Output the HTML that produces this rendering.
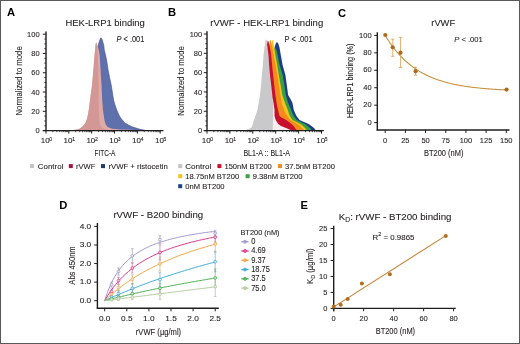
<!DOCTYPE html>
<html><head><meta charset="utf-8"><style>
html,body{margin:0;padding:0;background:#fff;}
body{width:520px;height:344px;overflow:hidden;}
svg{display:block;font-family:"Liberation Sans", sans-serif;will-change:transform;}
</style></head><body>
<svg width="520" height="344" viewBox="0 0 520 344">
<rect x="0" y="0" width="520" height="344" fill="#fff"/>
<text x="7.0" y="16.3" font-size="11.2" font-weight="bold" fill="#000">A</text>
<text x="168.0" y="16.3" font-size="11.2" font-weight="bold" fill="#000">B</text>
<text x="338.0" y="16.5" font-size="11.2" font-weight="bold" fill="#000">C</text>
<text x="59.3" y="209.1" font-size="11.2" font-weight="bold" fill="#000">D</text>
<text x="300.6" y="209.2" font-size="11.2" font-weight="bold" fill="#000">E</text>
<polygon points="95.00,130.60 95.00,62.00 96.80,52.00 98.00,46.00 99.00,42.50 99.80,40.00 100.30,39.00 100.80,37.80 101.40,38.20 102.30,40.00 103.00,42.50 103.70,45.00 104.30,50.00 105.50,55.00 106.60,60.00 107.40,65.00 108.10,70.00 109.10,75.00 110.10,80.00 111.20,85.00 112.00,90.00 112.80,95.00 113.60,100.00 115.00,105.00 116.80,110.00 118.50,114.00 120.00,117.00 122.30,120.00 125.00,123.00 128.40,125.00 132.00,126.80 135.90,128.00 140.00,129.30 144.00,130.10 146.00,130.60" fill="#5e71ad" stroke="#45538a" stroke-width="0.6"/>
<polygon points="66.00,130.60 72.00,130.10 76.00,129.70 79.00,128.90 81.00,127.80 82.50,126.60 84.00,125.00 86.00,122.00 87.50,117.00 88.60,111.00 89.70,103.00 90.80,94.00 92.10,85.00 92.80,77.00 93.40,70.00 94.00,62.00 94.60,55.00 95.20,49.00 95.70,44.00 96.10,42.30 96.60,43.20 97.50,46.00 98.50,49.00 99.70,55.00 100.20,64.00 100.70,72.00 101.20,80.00 101.70,88.00 102.20,100.00 103.00,110.00 104.40,120.00 105.50,124.00 107.50,127.00 112.00,128.80 120.00,129.40 130.00,129.70 136.00,130.00 140.00,130.60" fill="#dfa9a7"/>
<polygon points="66.00,130.60 72.00,130.10 76.00,129.70 79.00,128.90 81.00,127.80 82.50,126.60 84.00,125.00 86.00,122.00 87.50,117.00 88.60,111.00 89.70,103.00 90.80,94.00 92.10,85.00 92.80,77.00 93.40,70.00 94.00,62.00 94.60,55.00 95.20,49.00 95.70,44.00 96.10,42.30 96.60,43.20 96.90,46.00 97.40,50.00 97.70,55.00 98.00,64.00 98.20,72.00 98.50,80.00 98.70,88.00 98.60,100.00 98.80,110.00 99.10,120.00 100.00,125.00 102.00,128.00 106.00,129.50 110.00,130.60" fill="#d39795"/>
<line x1="46.00" y1="31.50" x2="46.00" y2="131.20" stroke="#1e1e1e" stroke-width="1.4"/>
<line x1="42.80" y1="130.60" x2="46.00" y2="130.60" stroke="#1e1e1e" stroke-width="1"/>
<line x1="44.40" y1="125.78" x2="46.00" y2="125.78" stroke="#1e1e1e" stroke-width="0.9"/>
<line x1="44.40" y1="120.96" x2="46.00" y2="120.96" stroke="#1e1e1e" stroke-width="0.9"/>
<line x1="44.40" y1="116.14" x2="46.00" y2="116.14" stroke="#1e1e1e" stroke-width="0.9"/>
<line x1="42.80" y1="111.32" x2="46.00" y2="111.32" stroke="#1e1e1e" stroke-width="1"/>
<line x1="44.40" y1="106.50" x2="46.00" y2="106.50" stroke="#1e1e1e" stroke-width="0.9"/>
<line x1="44.40" y1="101.68" x2="46.00" y2="101.68" stroke="#1e1e1e" stroke-width="0.9"/>
<line x1="44.40" y1="96.86" x2="46.00" y2="96.86" stroke="#1e1e1e" stroke-width="0.9"/>
<line x1="42.80" y1="92.04" x2="46.00" y2="92.04" stroke="#1e1e1e" stroke-width="1"/>
<line x1="44.40" y1="87.22" x2="46.00" y2="87.22" stroke="#1e1e1e" stroke-width="0.9"/>
<line x1="44.40" y1="82.40" x2="46.00" y2="82.40" stroke="#1e1e1e" stroke-width="0.9"/>
<line x1="44.40" y1="77.58" x2="46.00" y2="77.58" stroke="#1e1e1e" stroke-width="0.9"/>
<line x1="42.80" y1="72.76" x2="46.00" y2="72.76" stroke="#1e1e1e" stroke-width="1"/>
<line x1="44.40" y1="67.94" x2="46.00" y2="67.94" stroke="#1e1e1e" stroke-width="0.9"/>
<line x1="44.40" y1="63.12" x2="46.00" y2="63.12" stroke="#1e1e1e" stroke-width="0.9"/>
<line x1="44.40" y1="58.30" x2="46.00" y2="58.30" stroke="#1e1e1e" stroke-width="0.9"/>
<line x1="42.80" y1="53.48" x2="46.00" y2="53.48" stroke="#1e1e1e" stroke-width="1"/>
<line x1="44.40" y1="48.66" x2="46.00" y2="48.66" stroke="#1e1e1e" stroke-width="0.9"/>
<line x1="44.40" y1="43.84" x2="46.00" y2="43.84" stroke="#1e1e1e" stroke-width="0.9"/>
<line x1="44.40" y1="39.02" x2="46.00" y2="39.02" stroke="#1e1e1e" stroke-width="0.9"/>
<line x1="42.80" y1="34.20" x2="46.00" y2="34.20" stroke="#1e1e1e" stroke-width="1"/>
<line x1="42.80" y1="130.60" x2="163.50" y2="130.60" stroke="#1e1e1e" stroke-width="1.4"/>
<line x1="46.00" y1="130.60" x2="46.00" y2="133.60" stroke="#1e1e1e" stroke-width="1"/>
<line x1="52.88" y1="130.60" x2="52.88" y2="132.20" stroke="#1e1e1e" stroke-width="0.8"/>
<line x1="56.90" y1="130.60" x2="56.90" y2="132.20" stroke="#1e1e1e" stroke-width="0.8"/>
<line x1="59.75" y1="130.60" x2="59.75" y2="132.20" stroke="#1e1e1e" stroke-width="0.8"/>
<line x1="61.96" y1="130.60" x2="61.96" y2="132.20" stroke="#1e1e1e" stroke-width="0.8"/>
<line x1="63.77" y1="130.60" x2="63.77" y2="132.20" stroke="#1e1e1e" stroke-width="0.8"/>
<line x1="65.30" y1="130.60" x2="65.30" y2="132.20" stroke="#1e1e1e" stroke-width="0.8"/>
<line x1="66.63" y1="130.60" x2="66.63" y2="132.20" stroke="#1e1e1e" stroke-width="0.8"/>
<line x1="67.79" y1="130.60" x2="67.79" y2="132.20" stroke="#1e1e1e" stroke-width="0.8"/>
<line x1="68.84" y1="130.60" x2="68.84" y2="133.60" stroke="#1e1e1e" stroke-width="1"/>
<line x1="75.72" y1="130.60" x2="75.72" y2="132.20" stroke="#1e1e1e" stroke-width="0.8"/>
<line x1="79.74" y1="130.60" x2="79.74" y2="132.20" stroke="#1e1e1e" stroke-width="0.8"/>
<line x1="82.59" y1="130.60" x2="82.59" y2="132.20" stroke="#1e1e1e" stroke-width="0.8"/>
<line x1="84.80" y1="130.60" x2="84.80" y2="132.20" stroke="#1e1e1e" stroke-width="0.8"/>
<line x1="86.61" y1="130.60" x2="86.61" y2="132.20" stroke="#1e1e1e" stroke-width="0.8"/>
<line x1="88.14" y1="130.60" x2="88.14" y2="132.20" stroke="#1e1e1e" stroke-width="0.8"/>
<line x1="89.47" y1="130.60" x2="89.47" y2="132.20" stroke="#1e1e1e" stroke-width="0.8"/>
<line x1="90.63" y1="130.60" x2="90.63" y2="132.20" stroke="#1e1e1e" stroke-width="0.8"/>
<line x1="91.68" y1="130.60" x2="91.68" y2="133.60" stroke="#1e1e1e" stroke-width="1"/>
<line x1="98.56" y1="130.60" x2="98.56" y2="132.20" stroke="#1e1e1e" stroke-width="0.8"/>
<line x1="102.58" y1="130.60" x2="102.58" y2="132.20" stroke="#1e1e1e" stroke-width="0.8"/>
<line x1="105.43" y1="130.60" x2="105.43" y2="132.20" stroke="#1e1e1e" stroke-width="0.8"/>
<line x1="107.64" y1="130.60" x2="107.64" y2="132.20" stroke="#1e1e1e" stroke-width="0.8"/>
<line x1="109.45" y1="130.60" x2="109.45" y2="132.20" stroke="#1e1e1e" stroke-width="0.8"/>
<line x1="110.98" y1="130.60" x2="110.98" y2="132.20" stroke="#1e1e1e" stroke-width="0.8"/>
<line x1="112.31" y1="130.60" x2="112.31" y2="132.20" stroke="#1e1e1e" stroke-width="0.8"/>
<line x1="113.47" y1="130.60" x2="113.47" y2="132.20" stroke="#1e1e1e" stroke-width="0.8"/>
<line x1="114.52" y1="130.60" x2="114.52" y2="133.60" stroke="#1e1e1e" stroke-width="1"/>
<line x1="121.40" y1="130.60" x2="121.40" y2="132.20" stroke="#1e1e1e" stroke-width="0.8"/>
<line x1="125.42" y1="130.60" x2="125.42" y2="132.20" stroke="#1e1e1e" stroke-width="0.8"/>
<line x1="128.27" y1="130.60" x2="128.27" y2="132.20" stroke="#1e1e1e" stroke-width="0.8"/>
<line x1="130.48" y1="130.60" x2="130.48" y2="132.20" stroke="#1e1e1e" stroke-width="0.8"/>
<line x1="132.29" y1="130.60" x2="132.29" y2="132.20" stroke="#1e1e1e" stroke-width="0.8"/>
<line x1="133.82" y1="130.60" x2="133.82" y2="132.20" stroke="#1e1e1e" stroke-width="0.8"/>
<line x1="135.15" y1="130.60" x2="135.15" y2="132.20" stroke="#1e1e1e" stroke-width="0.8"/>
<line x1="136.31" y1="130.60" x2="136.31" y2="132.20" stroke="#1e1e1e" stroke-width="0.8"/>
<line x1="137.36" y1="130.60" x2="137.36" y2="133.60" stroke="#1e1e1e" stroke-width="1"/>
<line x1="144.24" y1="130.60" x2="144.24" y2="132.20" stroke="#1e1e1e" stroke-width="0.8"/>
<line x1="148.26" y1="130.60" x2="148.26" y2="132.20" stroke="#1e1e1e" stroke-width="0.8"/>
<line x1="151.11" y1="130.60" x2="151.11" y2="132.20" stroke="#1e1e1e" stroke-width="0.8"/>
<line x1="153.32" y1="130.60" x2="153.32" y2="132.20" stroke="#1e1e1e" stroke-width="0.8"/>
<line x1="155.13" y1="130.60" x2="155.13" y2="132.20" stroke="#1e1e1e" stroke-width="0.8"/>
<line x1="156.66" y1="130.60" x2="156.66" y2="132.20" stroke="#1e1e1e" stroke-width="0.8"/>
<line x1="157.99" y1="130.60" x2="157.99" y2="132.20" stroke="#1e1e1e" stroke-width="0.8"/>
<line x1="159.15" y1="130.60" x2="159.15" y2="132.20" stroke="#1e1e1e" stroke-width="0.8"/>
<line x1="160.20" y1="130.60" x2="160.20" y2="133.60" stroke="#1e1e1e" stroke-width="1"/>
<text x="39.6" y="133.2" font-size="8.1" text-anchor="end" textLength="4.17" lengthAdjust="spacingAndGlyphs" fill="#231f20" stroke="#231f20" stroke-width="0.1">0</text>
<text x="39.6" y="113.91999999999999" font-size="8.1" text-anchor="end" textLength="8.34" lengthAdjust="spacingAndGlyphs" fill="#231f20" stroke="#231f20" stroke-width="0.1">20</text>
<text x="39.6" y="94.63999999999999" font-size="8.1" text-anchor="end" textLength="8.34" lengthAdjust="spacingAndGlyphs" fill="#231f20" stroke="#231f20" stroke-width="0.1">40</text>
<text x="39.6" y="75.35999999999999" font-size="8.1" text-anchor="end" textLength="8.34" lengthAdjust="spacingAndGlyphs" fill="#231f20" stroke="#231f20" stroke-width="0.1">60</text>
<text x="39.6" y="56.080000000000005" font-size="8.1" text-anchor="end" textLength="8.34" lengthAdjust="spacingAndGlyphs" fill="#231f20" stroke="#231f20" stroke-width="0.1">80</text>
<text x="39.6" y="36.800000000000004" font-size="8.1" text-anchor="end" textLength="12.51" lengthAdjust="spacingAndGlyphs" fill="#231f20" stroke="#231f20" stroke-width="0.1">100</text>
<text x="45.2" y="143.4" font-size="8.0" text-anchor="middle" fill="#231f20" stroke="#231f20" stroke-width="0.1">10</text>
<text x="49.3" y="140.9" font-size="5.0" fill="#231f20" stroke="#231f20" stroke-width="0.1">0</text>
<text x="68.04" y="143.4" font-size="8.0" text-anchor="middle" fill="#231f20" stroke="#231f20" stroke-width="0.1">10</text>
<text x="72.14" y="140.9" font-size="5.0" fill="#231f20" stroke="#231f20" stroke-width="0.1">1</text>
<text x="90.88000000000001" y="143.4" font-size="8.0" text-anchor="middle" fill="#231f20" stroke="#231f20" stroke-width="0.1">10</text>
<text x="94.98" y="140.9" font-size="5.0" fill="#231f20" stroke="#231f20" stroke-width="0.1">2</text>
<text x="113.72" y="143.4" font-size="8.0" text-anchor="middle" fill="#231f20" stroke="#231f20" stroke-width="0.1">10</text>
<text x="117.82" y="140.9" font-size="5.0" fill="#231f20" stroke="#231f20" stroke-width="0.1">3</text>
<text x="136.56" y="143.4" font-size="8.0" text-anchor="middle" fill="#231f20" stroke="#231f20" stroke-width="0.1">10</text>
<text x="140.66000000000003" y="140.9" font-size="5.0" fill="#231f20" stroke="#231f20" stroke-width="0.1">4</text>
<text x="159.39999999999998" y="143.4" font-size="8.0" text-anchor="middle" fill="#231f20" stroke="#231f20" stroke-width="0.1">10</text>
<text x="163.5" y="140.9" font-size="5.0" fill="#231f20" stroke="#231f20" stroke-width="0.1">5</text>
<text x="105.0" y="155.9" font-size="9.0" text-anchor="middle" textLength="20.9" lengthAdjust="spacingAndGlyphs" fill="#231f20" stroke="#231f20" stroke-width="0.1">FITC-A</text>
<text transform="translate(21.5,80.9) rotate(-90)" font-size="9.4" text-anchor="middle" fill="#231f20" textLength="69.2" lengthAdjust="spacingAndGlyphs" stroke="#231f20" stroke-width="0.1">Normalized to mode</text>
<text x="65.5" y="26.1" font-size="9.9" textLength="79.3" lengthAdjust="spacingAndGlyphs" fill="#231f20" stroke="#231f20" stroke-width="0.1">HEK-LRP1 binding</text>
<text x="116.5" y="41.9" font-size="8.3" textLength="27.8" lengthAdjust="spacingAndGlyphs" fill="#231f20" stroke="#231f20" stroke-width="0.1"><tspan font-style="italic">P</tspan> &lt; .001</text>
<rect x="30" y="164.1" width="4" height="4" fill="#c4c4c6"/>
<text x="37.8" y="168.8" font-size="8.0" textLength="25.6" lengthAdjust="spacingAndGlyphs" fill="#231f20" stroke="#231f20" stroke-width="0.1">Control</text>
<rect x="68.8" y="164.1" width="4" height="4" fill="#a8123a"/>
<text x="76.0" y="168.8" font-size="8.0" textLength="19.3" lengthAdjust="spacingAndGlyphs" fill="#231f20" stroke="#231f20" stroke-width="0.1">rVWF</text>
<rect x="101.0" y="164.1" width="4" height="4" fill="#1e3a70"/>
<text x="108.5" y="168.8" font-size="8.0" textLength="59.3" lengthAdjust="spacingAndGlyphs" fill="#231f20" stroke="#231f20" stroke-width="0.1">rVWF + ristocetin</text>
<polygon points="258.00,130.60 273.50,60.00 274.30,50.00 275.00,46.00 275.80,43.50 276.60,42.30 277.00,42.20 277.60,42.60 278.60,44.50 279.50,47.50 280.10,51.00 280.80,55.00 282.60,65.00 285.40,75.00 286.80,85.00 288.10,95.00 290.50,99.00 292.50,103.00 293.80,110.00 295.50,114.00 296.50,116.00 298.00,118.00 299.50,120.00 304.00,122.00 308.60,124.00 311.50,126.00 314.00,128.00 316.00,130.60" fill="#1c3d88"/>
<polygon points="258.00,130.60 272.60,60.00 273.30,52.00 274.00,46.00 274.60,48.40 275.00,47.60 275.60,48.20 276.30,50.00 277.00,52.00 277.60,55.00 279.60,65.00 282.70,75.00 284.30,85.00 285.80,95.00 288.20,103.00 291.20,110.00 292.80,114.00 293.80,116.00 295.30,118.00 296.80,120.00 301.00,122.00 304.90,124.00 307.50,126.00 310.00,128.00 312.00,130.60" fill="#3aa046"/>
<polygon points="258.00,130.60 270.00,60.00 270.70,52.00 271.40,46.00 272.00,40.90 272.40,40.10 273.00,40.80 273.80,45.00 274.60,50.00 275.40,55.00 277.20,65.00 278.80,75.00 280.60,85.00 282.30,95.00 285.00,103.00 287.80,110.00 289.00,114.00 289.90,116.00 291.20,118.00 292.60,120.00 296.50,122.00 300.30,124.00 303.00,126.00 305.00,128.00 307.00,130.60" fill="#f6c21b"/>
<polygon points="258.00,130.60 267.90,60.00 268.60,52.00 269.30,46.00 269.90,40.80 270.30,40.00 270.90,40.80 271.80,45.00 272.70,50.00 273.50,55.00 275.50,65.00 277.30,75.00 278.80,85.00 280.40,95.00 281.60,103.00 284.00,110.00 286.00,114.00 287.20,116.00 288.80,118.00 290.30,120.00 294.00,122.00 297.50,124.00 300.00,126.00 302.00,128.00 304.00,130.60" fill="#f28c1c"/>
<polygon points="258.00,130.60 265.50,60.00 266.20,52.00 266.90,46.00 267.50,41.30 267.90,40.50 268.40,41.30 269.40,45.00 270.40,50.00 271.20,55.00 272.10,65.00 273.10,75.00 274.20,85.00 275.40,95.00 276.60,103.00 278.00,110.00 279.00,114.00 279.50,116.00 281.50,117.50 284.50,119.00 286.10,120.00 289.00,122.00 291.50,124.00 293.50,126.00 295.00,128.00 297.00,130.60" fill="#c8102e"/>
<polygon points="272.00,98.00 273.00,100.00 273.80,105.00 274.50,110.00 274.50,116.00 275.70,120.00 278.20,124.00 281.00,126.00 286.00,128.00 289.50,129.50 292.00,130.60 270.00,130.60 270.00,98.00" fill="#f6eef0"/>
<polygon points="243.00,130.60 246.00,129.90 249.00,129.00 251.90,127.00 253.70,120.50 255.50,116.00 257.40,110.00 258.80,102.00 260.00,95.00 261.00,85.00 261.90,75.00 262.80,65.00 263.50,55.00 264.20,50.00 264.90,45.00 265.40,41.50 265.80,39.50 266.40,40.20 267.00,45.00 267.80,50.00 268.50,55.00 269.10,65.00 270.00,75.00 271.20,85.00 272.30,95.00 273.00,103.00 273.20,110.00 273.10,120.00 272.80,127.00 272.60,130.60" fill="#c9c9cc"/>
<polygon points="265.80,39.50 266.40,40.20 267.00,45.00 267.50,48.50 264.40,48.50 264.90,45.00 265.40,41.50" fill="#e0c6cb"/>
<line x1="207.00" y1="31.30" x2="207.00" y2="131.20" stroke="#1e1e1e" stroke-width="1.4"/>
<line x1="203.80" y1="130.60" x2="207.00" y2="130.60" stroke="#1e1e1e" stroke-width="1"/>
<line x1="205.40" y1="125.77" x2="207.00" y2="125.77" stroke="#1e1e1e" stroke-width="0.9"/>
<line x1="205.40" y1="120.94" x2="207.00" y2="120.94" stroke="#1e1e1e" stroke-width="0.9"/>
<line x1="205.40" y1="116.11" x2="207.00" y2="116.11" stroke="#1e1e1e" stroke-width="0.9"/>
<line x1="203.80" y1="111.28" x2="207.00" y2="111.28" stroke="#1e1e1e" stroke-width="1"/>
<line x1="205.40" y1="106.45" x2="207.00" y2="106.45" stroke="#1e1e1e" stroke-width="0.9"/>
<line x1="205.40" y1="101.62" x2="207.00" y2="101.62" stroke="#1e1e1e" stroke-width="0.9"/>
<line x1="205.40" y1="96.79" x2="207.00" y2="96.79" stroke="#1e1e1e" stroke-width="0.9"/>
<line x1="203.80" y1="91.96" x2="207.00" y2="91.96" stroke="#1e1e1e" stroke-width="1"/>
<line x1="205.40" y1="87.13" x2="207.00" y2="87.13" stroke="#1e1e1e" stroke-width="0.9"/>
<line x1="205.40" y1="82.30" x2="207.00" y2="82.30" stroke="#1e1e1e" stroke-width="0.9"/>
<line x1="205.40" y1="77.47" x2="207.00" y2="77.47" stroke="#1e1e1e" stroke-width="0.9"/>
<line x1="203.80" y1="72.64" x2="207.00" y2="72.64" stroke="#1e1e1e" stroke-width="1"/>
<line x1="205.40" y1="67.81" x2="207.00" y2="67.81" stroke="#1e1e1e" stroke-width="0.9"/>
<line x1="205.40" y1="62.98" x2="207.00" y2="62.98" stroke="#1e1e1e" stroke-width="0.9"/>
<line x1="205.40" y1="58.15" x2="207.00" y2="58.15" stroke="#1e1e1e" stroke-width="0.9"/>
<line x1="203.80" y1="53.32" x2="207.00" y2="53.32" stroke="#1e1e1e" stroke-width="1"/>
<line x1="205.40" y1="48.49" x2="207.00" y2="48.49" stroke="#1e1e1e" stroke-width="0.9"/>
<line x1="205.40" y1="43.66" x2="207.00" y2="43.66" stroke="#1e1e1e" stroke-width="0.9"/>
<line x1="205.40" y1="38.83" x2="207.00" y2="38.83" stroke="#1e1e1e" stroke-width="0.9"/>
<line x1="203.80" y1="34.00" x2="207.00" y2="34.00" stroke="#1e1e1e" stroke-width="1"/>
<line x1="203.80" y1="130.60" x2="323.80" y2="130.60" stroke="#1e1e1e" stroke-width="1.4"/>
<line x1="207.00" y1="130.60" x2="207.00" y2="133.60" stroke="#1e1e1e" stroke-width="1"/>
<line x1="213.89" y1="130.60" x2="213.89" y2="132.20" stroke="#1e1e1e" stroke-width="0.8"/>
<line x1="217.93" y1="130.60" x2="217.93" y2="132.20" stroke="#1e1e1e" stroke-width="0.8"/>
<line x1="220.79" y1="130.60" x2="220.79" y2="132.20" stroke="#1e1e1e" stroke-width="0.8"/>
<line x1="223.01" y1="130.60" x2="223.01" y2="132.20" stroke="#1e1e1e" stroke-width="0.8"/>
<line x1="224.82" y1="130.60" x2="224.82" y2="132.20" stroke="#1e1e1e" stroke-width="0.8"/>
<line x1="226.35" y1="130.60" x2="226.35" y2="132.20" stroke="#1e1e1e" stroke-width="0.8"/>
<line x1="227.68" y1="130.60" x2="227.68" y2="132.20" stroke="#1e1e1e" stroke-width="0.8"/>
<line x1="228.85" y1="130.60" x2="228.85" y2="132.20" stroke="#1e1e1e" stroke-width="0.8"/>
<line x1="229.90" y1="130.60" x2="229.90" y2="133.60" stroke="#1e1e1e" stroke-width="1"/>
<line x1="236.79" y1="130.60" x2="236.79" y2="132.20" stroke="#1e1e1e" stroke-width="0.8"/>
<line x1="240.83" y1="130.60" x2="240.83" y2="132.20" stroke="#1e1e1e" stroke-width="0.8"/>
<line x1="243.69" y1="130.60" x2="243.69" y2="132.20" stroke="#1e1e1e" stroke-width="0.8"/>
<line x1="245.91" y1="130.60" x2="245.91" y2="132.20" stroke="#1e1e1e" stroke-width="0.8"/>
<line x1="247.72" y1="130.60" x2="247.72" y2="132.20" stroke="#1e1e1e" stroke-width="0.8"/>
<line x1="249.25" y1="130.60" x2="249.25" y2="132.20" stroke="#1e1e1e" stroke-width="0.8"/>
<line x1="250.58" y1="130.60" x2="250.58" y2="132.20" stroke="#1e1e1e" stroke-width="0.8"/>
<line x1="251.75" y1="130.60" x2="251.75" y2="132.20" stroke="#1e1e1e" stroke-width="0.8"/>
<line x1="252.80" y1="130.60" x2="252.80" y2="133.60" stroke="#1e1e1e" stroke-width="1"/>
<line x1="259.69" y1="130.60" x2="259.69" y2="132.20" stroke="#1e1e1e" stroke-width="0.8"/>
<line x1="263.73" y1="130.60" x2="263.73" y2="132.20" stroke="#1e1e1e" stroke-width="0.8"/>
<line x1="266.59" y1="130.60" x2="266.59" y2="132.20" stroke="#1e1e1e" stroke-width="0.8"/>
<line x1="268.81" y1="130.60" x2="268.81" y2="132.20" stroke="#1e1e1e" stroke-width="0.8"/>
<line x1="270.62" y1="130.60" x2="270.62" y2="132.20" stroke="#1e1e1e" stroke-width="0.8"/>
<line x1="272.15" y1="130.60" x2="272.15" y2="132.20" stroke="#1e1e1e" stroke-width="0.8"/>
<line x1="273.48" y1="130.60" x2="273.48" y2="132.20" stroke="#1e1e1e" stroke-width="0.8"/>
<line x1="274.65" y1="130.60" x2="274.65" y2="132.20" stroke="#1e1e1e" stroke-width="0.8"/>
<line x1="275.70" y1="130.60" x2="275.70" y2="133.60" stroke="#1e1e1e" stroke-width="1"/>
<line x1="282.59" y1="130.60" x2="282.59" y2="132.20" stroke="#1e1e1e" stroke-width="0.8"/>
<line x1="286.63" y1="130.60" x2="286.63" y2="132.20" stroke="#1e1e1e" stroke-width="0.8"/>
<line x1="289.49" y1="130.60" x2="289.49" y2="132.20" stroke="#1e1e1e" stroke-width="0.8"/>
<line x1="291.71" y1="130.60" x2="291.71" y2="132.20" stroke="#1e1e1e" stroke-width="0.8"/>
<line x1="293.52" y1="130.60" x2="293.52" y2="132.20" stroke="#1e1e1e" stroke-width="0.8"/>
<line x1="295.05" y1="130.60" x2="295.05" y2="132.20" stroke="#1e1e1e" stroke-width="0.8"/>
<line x1="296.38" y1="130.60" x2="296.38" y2="132.20" stroke="#1e1e1e" stroke-width="0.8"/>
<line x1="297.55" y1="130.60" x2="297.55" y2="132.20" stroke="#1e1e1e" stroke-width="0.8"/>
<line x1="298.60" y1="130.60" x2="298.60" y2="133.60" stroke="#1e1e1e" stroke-width="1"/>
<line x1="305.49" y1="130.60" x2="305.49" y2="132.20" stroke="#1e1e1e" stroke-width="0.8"/>
<line x1="309.53" y1="130.60" x2="309.53" y2="132.20" stroke="#1e1e1e" stroke-width="0.8"/>
<line x1="312.39" y1="130.60" x2="312.39" y2="132.20" stroke="#1e1e1e" stroke-width="0.8"/>
<line x1="314.61" y1="130.60" x2="314.61" y2="132.20" stroke="#1e1e1e" stroke-width="0.8"/>
<line x1="316.42" y1="130.60" x2="316.42" y2="132.20" stroke="#1e1e1e" stroke-width="0.8"/>
<line x1="317.95" y1="130.60" x2="317.95" y2="132.20" stroke="#1e1e1e" stroke-width="0.8"/>
<line x1="319.28" y1="130.60" x2="319.28" y2="132.20" stroke="#1e1e1e" stroke-width="0.8"/>
<line x1="320.45" y1="130.60" x2="320.45" y2="132.20" stroke="#1e1e1e" stroke-width="0.8"/>
<line x1="321.50" y1="130.60" x2="321.50" y2="133.60" stroke="#1e1e1e" stroke-width="1"/>
<text x="202.2" y="133.2" font-size="8.1" text-anchor="end" textLength="4.17" lengthAdjust="spacingAndGlyphs" fill="#231f20" stroke="#231f20" stroke-width="0.1">0</text>
<text x="202.2" y="113.88" font-size="8.1" text-anchor="end" textLength="8.34" lengthAdjust="spacingAndGlyphs" fill="#231f20" stroke="#231f20" stroke-width="0.1">20</text>
<text x="202.2" y="94.55999999999999" font-size="8.1" text-anchor="end" textLength="8.34" lengthAdjust="spacingAndGlyphs" fill="#231f20" stroke="#231f20" stroke-width="0.1">40</text>
<text x="202.2" y="75.24" font-size="8.1" text-anchor="end" textLength="8.34" lengthAdjust="spacingAndGlyphs" fill="#231f20" stroke="#231f20" stroke-width="0.1">60</text>
<text x="202.2" y="55.919999999999995" font-size="8.1" text-anchor="end" textLength="8.34" lengthAdjust="spacingAndGlyphs" fill="#231f20" stroke="#231f20" stroke-width="0.1">80</text>
<text x="202.2" y="36.6" font-size="8.1" text-anchor="end" textLength="12.51" lengthAdjust="spacingAndGlyphs" fill="#231f20" stroke="#231f20" stroke-width="0.1">100</text>
<text x="206.2" y="143.4" font-size="8.0" text-anchor="middle" fill="#231f20" stroke="#231f20" stroke-width="0.1">10</text>
<text x="210.3" y="140.9" font-size="5.0" fill="#231f20" stroke="#231f20" stroke-width="0.1">0</text>
<text x="229.1" y="143.4" font-size="8.0" text-anchor="middle" fill="#231f20" stroke="#231f20" stroke-width="0.1">10</text>
<text x="233.20000000000002" y="140.9" font-size="5.0" fill="#231f20" stroke="#231f20" stroke-width="0.1">1</text>
<text x="252.0" y="143.4" font-size="8.0" text-anchor="middle" fill="#231f20" stroke="#231f20" stroke-width="0.1">10</text>
<text x="256.1" y="140.9" font-size="5.0" fill="#231f20" stroke="#231f20" stroke-width="0.1">2</text>
<text x="274.9" y="143.4" font-size="8.0" text-anchor="middle" fill="#231f20" stroke="#231f20" stroke-width="0.1">10</text>
<text x="279.0" y="140.9" font-size="5.0" fill="#231f20" stroke="#231f20" stroke-width="0.1">3</text>
<text x="297.8" y="143.4" font-size="8.0" text-anchor="middle" fill="#231f20" stroke="#231f20" stroke-width="0.1">10</text>
<text x="301.90000000000003" y="140.9" font-size="5.0" fill="#231f20" stroke="#231f20" stroke-width="0.1">4</text>
<text x="320.7" y="143.4" font-size="8.0" text-anchor="middle" fill="#231f20" stroke="#231f20" stroke-width="0.1">10</text>
<text x="324.8" y="140.9" font-size="5.0" fill="#231f20" stroke="#231f20" stroke-width="0.1">5</text>
<text x="266.7" y="155.9" font-size="9.0" text-anchor="middle" textLength="46.6" lengthAdjust="spacingAndGlyphs" fill="#231f20" stroke="#231f20" stroke-width="0.1">BL1-A :: BL1-A</text>
<text transform="translate(183.6,80.95) rotate(-90)" font-size="9.4" text-anchor="middle" fill="#231f20" textLength="69.4" lengthAdjust="spacingAndGlyphs" stroke="#231f20" stroke-width="0.1">Normalized to mode</text>
<text x="210.3" y="26.2" font-size="9.9" textLength="112.9" lengthAdjust="spacingAndGlyphs" fill="#231f20" stroke="#231f20" stroke-width="0.1">rVWF - HEK-LRP1 binding</text>
<text x="284.6" y="42.0" font-size="8.3" textLength="28.0" lengthAdjust="spacingAndGlyphs" fill="#231f20" stroke="#231f20" stroke-width="0.1">P &lt; .001</text>
<rect x="178.2" y="164.1" width="4" height="4" fill="#c4c4c6"/>
<text x="185.29999999999998" y="168.7" font-size="8.0" textLength="26.0" lengthAdjust="spacingAndGlyphs" fill="#231f20" stroke="#231f20" stroke-width="0.1">Control</text>
<rect x="217.4" y="164.1" width="4" height="4" fill="#c8102e"/>
<text x="224.5" y="168.7" font-size="8.0" textLength="47.3" lengthAdjust="spacingAndGlyphs" fill="#231f20" stroke="#231f20" stroke-width="0.1">150nM BT200</text>
<rect x="278" y="164.1" width="4" height="4" fill="#f28c1c"/>
<text x="285.1" y="168.7" font-size="8.0" textLength="49.8" lengthAdjust="spacingAndGlyphs" fill="#231f20" stroke="#231f20" stroke-width="0.1">37.5nM BT200</text>
<rect x="178.2" y="174.2" width="4" height="4" fill="#f6c21b"/>
<text x="185.29999999999998" y="178.79999999999998" font-size="8.0" textLength="53.8" lengthAdjust="spacingAndGlyphs" fill="#231f20" stroke="#231f20" stroke-width="0.1">18.75nM BT200</text>
<rect x="245.6" y="174.2" width="4" height="4" fill="#3aa046"/>
<text x="252.7" y="178.79999999999998" font-size="8.0" textLength="49.8" lengthAdjust="spacingAndGlyphs" fill="#231f20" stroke="#231f20" stroke-width="0.1">9.38nM BT200</text>
<rect x="178.2" y="184.2" width="4" height="4" fill="#1b3f8b"/>
<text x="185.29999999999998" y="188.79999999999998" font-size="8.0" textLength="39.3" lengthAdjust="spacingAndGlyphs" fill="#231f20" stroke="#231f20" stroke-width="0.1">0nM BT200</text>
<line x1="377.30" y1="32.20" x2="377.30" y2="130.60" stroke="#1e1e1e" stroke-width="1.4"/>
<line x1="376.70" y1="130.00" x2="509.50" y2="130.00" stroke="#1e1e1e" stroke-width="1.4"/>
<line x1="374.20" y1="122.60" x2="377.30" y2="122.60" stroke="#1e1e1e" stroke-width="1"/>
<text x="371.6" y="124.69999999999999" font-size="8.1" text-anchor="end" textLength="4.17" lengthAdjust="spacingAndGlyphs" fill="#231f20" stroke="#231f20" stroke-width="0.1">0</text>
<line x1="374.20" y1="105.16" x2="377.30" y2="105.16" stroke="#1e1e1e" stroke-width="1"/>
<text x="371.6" y="107.25999999999999" font-size="8.1" text-anchor="end" textLength="8.34" lengthAdjust="spacingAndGlyphs" fill="#231f20" stroke="#231f20" stroke-width="0.1">20</text>
<line x1="374.20" y1="87.72" x2="377.30" y2="87.72" stroke="#1e1e1e" stroke-width="1"/>
<text x="371.6" y="89.82" font-size="8.1" text-anchor="end" textLength="8.34" lengthAdjust="spacingAndGlyphs" fill="#231f20" stroke="#231f20" stroke-width="0.1">40</text>
<line x1="374.20" y1="70.28" x2="377.30" y2="70.28" stroke="#1e1e1e" stroke-width="1"/>
<text x="371.6" y="72.38" font-size="8.1" text-anchor="end" textLength="8.34" lengthAdjust="spacingAndGlyphs" fill="#231f20" stroke="#231f20" stroke-width="0.1">60</text>
<line x1="374.20" y1="52.84" x2="377.30" y2="52.84" stroke="#1e1e1e" stroke-width="1"/>
<text x="371.6" y="54.93999999999999" font-size="8.1" text-anchor="end" textLength="8.34" lengthAdjust="spacingAndGlyphs" fill="#231f20" stroke="#231f20" stroke-width="0.1">80</text>
<line x1="374.20" y1="35.40" x2="377.30" y2="35.40" stroke="#1e1e1e" stroke-width="1"/>
<text x="371.6" y="37.49999999999999" font-size="8.1" text-anchor="end" textLength="12.51" lengthAdjust="spacingAndGlyphs" fill="#231f20" stroke="#231f20" stroke-width="0.1">100</text>
<line x1="385.20" y1="130.00" x2="385.20" y2="133.00" stroke="#1e1e1e" stroke-width="1"/>
<text x="385.2" y="142.9" font-size="8.1" text-anchor="middle" textLength="4.17" lengthAdjust="spacingAndGlyphs" fill="#231f20" stroke="#231f20" stroke-width="0.1">0</text>
<line x1="405.38" y1="130.00" x2="405.38" y2="133.00" stroke="#1e1e1e" stroke-width="1"/>
<text x="405.3825" y="142.9" font-size="8.1" text-anchor="middle" textLength="8.34" lengthAdjust="spacingAndGlyphs" fill="#231f20" stroke="#231f20" stroke-width="0.1">25</text>
<line x1="425.56" y1="130.00" x2="425.56" y2="133.00" stroke="#1e1e1e" stroke-width="1"/>
<text x="425.565" y="142.9" font-size="8.1" text-anchor="middle" textLength="8.34" lengthAdjust="spacingAndGlyphs" fill="#231f20" stroke="#231f20" stroke-width="0.1">50</text>
<line x1="445.75" y1="130.00" x2="445.75" y2="133.00" stroke="#1e1e1e" stroke-width="1"/>
<text x="445.7475" y="142.9" font-size="8.1" text-anchor="middle" textLength="8.34" lengthAdjust="spacingAndGlyphs" fill="#231f20" stroke="#231f20" stroke-width="0.1">75</text>
<line x1="465.93" y1="130.00" x2="465.93" y2="133.00" stroke="#1e1e1e" stroke-width="1"/>
<text x="465.93" y="142.9" font-size="8.1" text-anchor="middle" textLength="12.51" lengthAdjust="spacingAndGlyphs" fill="#231f20" stroke="#231f20" stroke-width="0.1">100</text>
<line x1="486.11" y1="130.00" x2="486.11" y2="133.00" stroke="#1e1e1e" stroke-width="1"/>
<text x="486.1125" y="142.9" font-size="8.1" text-anchor="middle" textLength="12.51" lengthAdjust="spacingAndGlyphs" fill="#231f20" stroke="#231f20" stroke-width="0.1">125</text>
<line x1="506.29" y1="130.00" x2="506.29" y2="133.00" stroke="#1e1e1e" stroke-width="1"/>
<text x="506.29499999999996" y="142.9" font-size="8.1" text-anchor="middle" textLength="12.51" lengthAdjust="spacingAndGlyphs" fill="#231f20" stroke="#231f20" stroke-width="0.1">150</text>
<text x="443.7" y="156.4" font-size="9.0" text-anchor="middle" textLength="39.6" lengthAdjust="spacingAndGlyphs" fill="#231f20" stroke="#231f20" stroke-width="0.1">BT200 (nM)</text>
<text transform="translate(353.4,80.8) rotate(-90)" font-size="9.2" text-anchor="middle" fill="#231f20" textLength="74.6" lengthAdjust="spacingAndGlyphs" stroke="#231f20" stroke-width="0.1">HEK-LRP1 binding (%)</text>
<text x="431.3" y="25.9" font-size="9.0" textLength="23.8" lengthAdjust="spacingAndGlyphs" fill="#231f20" stroke="#231f20" stroke-width="0.1">rVWF</text>
<text x="454.2" y="41.7" font-size="8.1" textLength="28.6" lengthAdjust="spacingAndGlyphs" fill="#231f20" stroke="#231f20" stroke-width="0.1"><tspan font-style="italic">P</tspan> &lt; .001</text>
<polyline fill="none" stroke="#c88c34" stroke-width="1.05" points="385.20,35.40 386.01,36.74 386.81,38.04 387.62,39.31 388.43,40.55 389.24,41.77 390.04,42.95 390.85,44.11 391.66,45.23 392.47,46.34 393.27,47.41 394.08,48.46 394.89,49.48 395.69,50.48 396.50,51.46 397.31,52.41 398.12,53.34 398.92,54.25 399.73,55.14 400.54,56.00 401.35,56.85 402.15,57.67 402.96,58.48 403.77,59.26 404.58,60.03 405.38,60.78 406.19,61.51 407.00,62.22 407.80,62.92 408.61,63.60 409.42,64.26 410.23,64.91 411.03,65.54 411.84,66.16 412.65,66.76 413.46,67.35 414.26,67.92 415.07,68.48 415.88,69.03 416.68,69.56 417.49,70.09 418.30,70.59 419.11,71.09 419.91,71.58 420.72,72.05 421.53,72.51 422.34,72.96 423.14,73.40 423.95,73.83 424.76,74.25 425.56,74.66 426.37,75.06 427.18,75.45 427.99,75.83 428.79,76.21 429.60,76.57 430.41,76.92 431.22,77.27 432.02,77.61 432.83,77.94 433.64,78.26 434.45,78.57 435.25,78.88 436.06,79.18 436.87,79.47 437.67,79.76 438.48,80.03 439.29,80.31 440.10,80.57 440.90,80.83 441.71,81.08 442.52,81.33 443.33,81.57 444.13,81.81 444.94,82.03 445.75,82.26 446.55,82.48 447.36,82.69 448.17,82.90 448.98,83.10 449.78,83.30 450.59,83.50 451.40,83.68 452.21,83.87 453.01,84.05 453.82,84.23 454.63,84.40 455.44,84.57 456.24,84.73 457.05,84.89 457.86,85.05 458.66,85.20 459.47,85.35 460.28,85.49 461.09,85.63 461.89,85.77 462.70,85.91 463.51,86.04 464.32,86.17 465.12,86.29 465.93,86.42 466.74,86.53 467.54,86.65 468.35,86.77 469.16,86.88 469.97,86.99 470.77,87.09 471.58,87.20 472.39,87.30 473.20,87.40 474.00,87.49 474.81,87.59 475.62,87.68 476.42,87.77 477.23,87.85 478.04,87.94 478.85,88.02 479.65,88.10 480.46,88.18 481.27,88.26 482.08,88.34 482.88,88.41 483.69,88.48 484.50,88.55 485.31,88.62 486.11,88.69 486.92,88.75 487.73,88.82 488.53,88.88 489.34,88.94 490.15,89.00 490.96,89.06 491.76,89.12 492.57,89.17 493.38,89.23 494.19,89.28 494.99,89.33 495.80,89.38 496.61,89.43 497.41,89.48 498.22,89.52 499.03,89.57 499.84,89.61 500.64,89.66 501.45,89.70 502.26,89.74 503.07,89.78 503.87,89.82 504.68,89.86 505.49,89.90 506.29,89.93"/>
<line x1="392.80" y1="39.20" x2="392.80" y2="56.30" stroke="#d9a860" stroke-width="0.9"/>
<line x1="391.20" y1="39.20" x2="394.40" y2="39.20" stroke="#d9a860" stroke-width="0.9"/>
<line x1="391.20" y1="56.30" x2="394.40" y2="56.30" stroke="#d9a860" stroke-width="0.9"/>
<line x1="400.60" y1="37.40" x2="400.60" y2="67.50" stroke="#d9a860" stroke-width="0.9"/>
<line x1="399.00" y1="37.40" x2="402.20" y2="37.40" stroke="#d9a860" stroke-width="0.9"/>
<line x1="399.00" y1="67.50" x2="402.20" y2="67.50" stroke="#d9a860" stroke-width="0.9"/>
<line x1="415.60" y1="67.20" x2="415.60" y2="75.20" stroke="#d9a860" stroke-width="0.9"/>
<line x1="414.00" y1="67.20" x2="417.20" y2="67.20" stroke="#d9a860" stroke-width="0.9"/>
<line x1="414.00" y1="75.20" x2="417.20" y2="75.20" stroke="#d9a860" stroke-width="0.9"/>
<circle cx="385.3" cy="35.0" r="2.1" fill="#ab6b1c"/>
<circle cx="392.7" cy="47.3" r="2.1" fill="#ab6b1c"/>
<circle cx="400.5" cy="52.7" r="2.1" fill="#ab6b1c"/>
<circle cx="415.6" cy="71.2" r="2.1" fill="#ab6b1c"/>
<circle cx="506.6" cy="89.6" r="2.1" fill="#ab6b1c"/>
<line x1="97.40" y1="222.90" x2="97.40" y2="308.90" stroke="#1e1e1e" stroke-width="1.4"/>
<line x1="96.80" y1="308.30" x2="218.80" y2="308.30" stroke="#1e1e1e" stroke-width="1.4"/>
<line x1="94.20" y1="300.70" x2="97.40" y2="300.70" stroke="#1e1e1e" stroke-width="1"/>
<text x="91.2" y="303.0" font-size="8.1" text-anchor="end" textLength="11.54" lengthAdjust="spacingAndGlyphs" fill="#231f20" stroke="#231f20" stroke-width="0.1">0.0</text>
<line x1="94.20" y1="282.12" x2="97.40" y2="282.12" stroke="#1e1e1e" stroke-width="1"/>
<text x="91.2" y="284.425" font-size="8.1" text-anchor="end" textLength="11.54" lengthAdjust="spacingAndGlyphs" fill="#231f20" stroke="#231f20" stroke-width="0.1">1.0</text>
<line x1="94.20" y1="263.55" x2="97.40" y2="263.55" stroke="#1e1e1e" stroke-width="1"/>
<text x="91.2" y="265.85" font-size="8.1" text-anchor="end" textLength="11.54" lengthAdjust="spacingAndGlyphs" fill="#231f20" stroke="#231f20" stroke-width="0.1">2.0</text>
<line x1="94.20" y1="244.97" x2="97.40" y2="244.97" stroke="#1e1e1e" stroke-width="1"/>
<text x="91.2" y="247.275" font-size="8.1" text-anchor="end" textLength="11.54" lengthAdjust="spacingAndGlyphs" fill="#231f20" stroke="#231f20" stroke-width="0.1">3.0</text>
<line x1="94.20" y1="226.40" x2="97.40" y2="226.40" stroke="#1e1e1e" stroke-width="1"/>
<text x="91.2" y="228.7" font-size="8.1" text-anchor="end" textLength="11.54" lengthAdjust="spacingAndGlyphs" fill="#231f20" stroke="#231f20" stroke-width="0.1">4.0</text>
<line x1="104.70" y1="308.30" x2="104.70" y2="311.30" stroke="#1e1e1e" stroke-width="1"/>
<text x="104.7" y="320.6" font-size="8.1" text-anchor="middle" textLength="11.54" lengthAdjust="spacingAndGlyphs" fill="#231f20" stroke="#231f20" stroke-width="0.1">0.0</text>
<line x1="126.80" y1="308.30" x2="126.80" y2="311.30" stroke="#1e1e1e" stroke-width="1"/>
<text x="126.80000000000001" y="320.6" font-size="8.1" text-anchor="middle" textLength="11.54" lengthAdjust="spacingAndGlyphs" fill="#231f20" stroke="#231f20" stroke-width="0.1">0.5</text>
<line x1="148.90" y1="308.30" x2="148.90" y2="311.30" stroke="#1e1e1e" stroke-width="1"/>
<text x="148.9" y="320.6" font-size="8.1" text-anchor="middle" textLength="11.54" lengthAdjust="spacingAndGlyphs" fill="#231f20" stroke="#231f20" stroke-width="0.1">1.0</text>
<line x1="171.00" y1="308.30" x2="171.00" y2="311.30" stroke="#1e1e1e" stroke-width="1"/>
<text x="171.0" y="320.6" font-size="8.1" text-anchor="middle" textLength="11.54" lengthAdjust="spacingAndGlyphs" fill="#231f20" stroke="#231f20" stroke-width="0.1">1.5</text>
<line x1="193.10" y1="308.30" x2="193.10" y2="311.30" stroke="#1e1e1e" stroke-width="1"/>
<text x="193.10000000000002" y="320.6" font-size="8.1" text-anchor="middle" textLength="11.54" lengthAdjust="spacingAndGlyphs" fill="#231f20" stroke="#231f20" stroke-width="0.1">2.0</text>
<line x1="215.20" y1="308.30" x2="215.20" y2="311.30" stroke="#1e1e1e" stroke-width="1"/>
<text x="215.2" y="320.6" font-size="8.1" text-anchor="middle" textLength="11.54" lengthAdjust="spacingAndGlyphs" fill="#231f20" stroke="#231f20" stroke-width="0.1">2.5</text>
<text x="158.5" y="334.6" font-size="8.4" text-anchor="middle" textLength="45.3" lengthAdjust="spacingAndGlyphs" fill="#231f20" stroke="#231f20" stroke-width="0.1">rVWF (µg/ml)</text>
<text transform="translate(75.0,265.5) rotate(-90)" font-size="8.6" text-anchor="middle" fill="#231f20" textLength="38.3" lengthAdjust="spacingAndGlyphs" stroke="#231f20" stroke-width="0.1">Abs 450nm</text>
<text x="113.4" y="218.0" font-size="9.9" textLength="89.8" lengthAdjust="spacingAndGlyphs" fill="#231f20" stroke="#231f20" stroke-width="0.1">rVWF - B200 binding</text>
<g stroke="#9692ae" stroke-width="0.8" opacity="0.75"><line x1="111.60" y1="282.10" x2="111.60" y2="287.10"/><line x1="110.30" y1="282.10" x2="112.90" y2="282.10"/><line x1="110.30" y1="287.10" x2="112.90" y2="287.10"/></g>
<g stroke="#9692ae" stroke-width="0.8" opacity="0.75"><line x1="118.51" y1="268.00" x2="118.51" y2="275.00"/><line x1="117.21" y1="268.00" x2="119.81" y2="268.00"/><line x1="117.21" y1="275.00" x2="119.81" y2="275.00"/></g>
<g stroke="#9692ae" stroke-width="0.8" opacity="0.75"><line x1="132.32" y1="248.80" x2="132.32" y2="262.80"/><line x1="131.02" y1="248.80" x2="133.62" y2="248.80"/><line x1="131.02" y1="262.80" x2="133.62" y2="262.80"/></g>
<g stroke="#9692ae" stroke-width="0.8" opacity="0.75"><line x1="159.95" y1="235.60" x2="159.95" y2="243.60"/><line x1="158.65" y1="235.60" x2="161.25" y2="235.60"/><line x1="158.65" y1="243.60" x2="161.25" y2="243.60"/></g>
<g stroke="#9692ae" stroke-width="0.8" opacity="0.75"><line x1="215.20" y1="230.30" x2="215.20" y2="236.30"/><line x1="213.90" y1="230.30" x2="216.50" y2="230.30"/><line x1="213.90" y1="236.30" x2="216.50" y2="236.30"/></g>
<g stroke="#b6608b" stroke-width="0.8" opacity="0.75"><line x1="111.60" y1="289.00" x2="111.60" y2="294.00"/><line x1="110.30" y1="289.00" x2="112.90" y2="289.00"/><line x1="110.30" y1="294.00" x2="112.90" y2="294.00"/></g>
<g stroke="#b6608b" stroke-width="0.8" opacity="0.75"><line x1="118.51" y1="277.10" x2="118.51" y2="284.10"/><line x1="117.21" y1="277.10" x2="119.81" y2="277.10"/><line x1="117.21" y1="284.10" x2="119.81" y2="284.10"/></g>
<g stroke="#b6608b" stroke-width="0.8" opacity="0.75"><line x1="132.32" y1="263.00" x2="132.32" y2="273.00"/><line x1="131.02" y1="263.00" x2="133.62" y2="263.00"/><line x1="131.02" y1="273.00" x2="133.62" y2="273.00"/></g>
<g stroke="#b6608b" stroke-width="0.8" opacity="0.75"><line x1="159.95" y1="244.90" x2="159.95" y2="259.90"/><line x1="158.65" y1="244.90" x2="161.25" y2="244.90"/><line x1="158.65" y1="259.90" x2="161.25" y2="259.90"/></g>
<g stroke="#b6608b" stroke-width="0.8" opacity="0.75"><line x1="215.20" y1="232.20" x2="215.20" y2="242.20"/><line x1="213.90" y1="232.20" x2="216.50" y2="232.20"/><line x1="213.90" y1="242.20" x2="216.50" y2="242.20"/></g>
<g stroke="#c09966" stroke-width="0.8" opacity="0.75"><line x1="111.60" y1="292.20" x2="111.60" y2="296.20"/><line x1="110.30" y1="292.20" x2="112.90" y2="292.20"/><line x1="110.30" y1="296.20" x2="112.90" y2="296.20"/></g>
<g stroke="#c09966" stroke-width="0.8" opacity="0.75"><line x1="118.51" y1="284.60" x2="118.51" y2="290.60"/><line x1="117.21" y1="284.60" x2="119.81" y2="284.60"/><line x1="117.21" y1="290.60" x2="119.81" y2="290.60"/></g>
<g stroke="#c09966" stroke-width="0.8" opacity="0.75"><line x1="132.32" y1="274.90" x2="132.32" y2="283.90"/><line x1="131.02" y1="274.90" x2="133.62" y2="274.90"/><line x1="131.02" y1="283.90" x2="133.62" y2="283.90"/></g>
<g stroke="#c09966" stroke-width="0.8" opacity="0.75"><line x1="159.95" y1="257.00" x2="159.95" y2="271.00"/><line x1="158.65" y1="257.00" x2="161.25" y2="257.00"/><line x1="158.65" y1="271.00" x2="161.25" y2="271.00"/></g>
<g stroke="#c09966" stroke-width="0.8" opacity="0.75"><line x1="215.20" y1="236.00" x2="215.20" y2="252.00"/><line x1="213.90" y1="236.00" x2="216.50" y2="236.00"/><line x1="213.90" y1="252.00" x2="216.50" y2="252.00"/></g>
<g stroke="#639bb2" stroke-width="0.8" opacity="0.75"><line x1="111.60" y1="295.50" x2="111.60" y2="298.50"/><line x1="110.30" y1="295.50" x2="112.90" y2="295.50"/><line x1="110.30" y1="298.50" x2="112.90" y2="298.50"/></g>
<g stroke="#639bb2" stroke-width="0.8" opacity="0.75"><line x1="118.51" y1="291.10" x2="118.51" y2="296.10"/><line x1="117.21" y1="291.10" x2="119.81" y2="291.10"/><line x1="117.21" y1="296.10" x2="119.81" y2="296.10"/></g>
<g stroke="#639bb2" stroke-width="0.8" opacity="0.75"><line x1="132.32" y1="283.80" x2="132.32" y2="292.80"/><line x1="131.02" y1="283.80" x2="133.62" y2="283.80"/><line x1="131.02" y1="292.80" x2="133.62" y2="292.80"/></g>
<g stroke="#639bb2" stroke-width="0.8" opacity="0.75"><line x1="159.95" y1="272.70" x2="159.95" y2="286.70"/><line x1="158.65" y1="272.70" x2="161.25" y2="272.70"/><line x1="158.65" y1="286.70" x2="161.25" y2="286.70"/></g>
<g stroke="#639bb2" stroke-width="0.8" opacity="0.75"><line x1="215.20" y1="251.70" x2="215.20" y2="271.70"/><line x1="213.90" y1="251.70" x2="216.50" y2="251.70"/><line x1="213.90" y1="271.70" x2="216.50" y2="271.70"/></g>
<g stroke="#6b9d6f" stroke-width="0.8" opacity="0.75"><line x1="111.60" y1="297.70" x2="111.60" y2="300.10"/><line x1="110.30" y1="297.70" x2="112.90" y2="297.70"/><line x1="110.30" y1="300.10" x2="112.90" y2="300.10"/></g>
<g stroke="#6b9d6f" stroke-width="0.8" opacity="0.75"><line x1="118.51" y1="295.40" x2="118.51" y2="299.40"/><line x1="117.21" y1="295.40" x2="119.81" y2="295.40"/><line x1="117.21" y1="299.40" x2="119.81" y2="299.40"/></g>
<g stroke="#6b9d6f" stroke-width="0.8" opacity="0.75"><line x1="132.32" y1="289.60" x2="132.32" y2="297.60"/><line x1="131.02" y1="289.60" x2="133.62" y2="289.60"/><line x1="131.02" y1="297.60" x2="133.62" y2="297.60"/></g>
<g stroke="#6b9d6f" stroke-width="0.8" opacity="0.75"><line x1="159.95" y1="283.30" x2="159.95" y2="293.30"/><line x1="158.65" y1="283.30" x2="161.25" y2="283.30"/><line x1="158.65" y1="293.30" x2="161.25" y2="293.30"/></g>
<g stroke="#6b9d6f" stroke-width="0.8" opacity="0.75"><line x1="215.20" y1="269.00" x2="215.20" y2="287.00"/><line x1="213.90" y1="269.00" x2="216.50" y2="269.00"/><line x1="213.90" y1="287.00" x2="216.50" y2="287.00"/></g>
<g stroke="#a0ac94" stroke-width="0.8" opacity="0.75"><line x1="111.60" y1="298.80" x2="111.60" y2="300.80"/><line x1="110.30" y1="298.80" x2="112.90" y2="298.80"/><line x1="110.30" y1="300.80" x2="112.90" y2="300.80"/></g>
<g stroke="#a0ac94" stroke-width="0.8" opacity="0.75"><line x1="118.51" y1="297.50" x2="118.51" y2="300.50"/><line x1="117.21" y1="297.50" x2="119.81" y2="297.50"/><line x1="117.21" y1="300.50" x2="119.81" y2="300.50"/></g>
<g stroke="#a0ac94" stroke-width="0.8" opacity="0.75"><line x1="132.32" y1="294.70" x2="132.32" y2="299.70"/><line x1="131.02" y1="294.70" x2="133.62" y2="294.70"/><line x1="131.02" y1="299.70" x2="133.62" y2="299.70"/></g>
<g stroke="#a0ac94" stroke-width="0.8" opacity="0.75"><line x1="159.95" y1="289.30" x2="159.95" y2="299.30"/><line x1="158.65" y1="289.30" x2="161.25" y2="289.30"/><line x1="158.65" y1="299.30" x2="161.25" y2="299.30"/></g>
<g stroke="#a0ac94" stroke-width="0.8" opacity="0.75"><line x1="215.20" y1="276.60" x2="215.20" y2="296.60"/><line x1="213.90" y1="276.60" x2="216.50" y2="276.60"/><line x1="213.90" y1="296.60" x2="216.50" y2="296.60"/></g>
<polyline fill="none" stroke="#a098d0" stroke-width="1.0" points="104.70,300.70 106.10,296.30 107.50,292.34 108.90,288.74 110.29,285.46 111.69,282.46 113.09,279.71 114.49,277.17 115.89,274.83 117.29,272.65 118.69,270.63 120.09,268.75 121.48,266.99 122.88,265.34 124.28,263.79 125.68,262.34 127.08,260.97 128.48,259.67 129.88,258.45 131.28,257.29 132.67,256.20 134.07,255.15 135.47,254.16 136.87,253.22 138.27,252.32 139.67,251.47 141.07,250.65 142.47,249.87 143.86,249.12 145.26,248.40 146.66,247.72 148.06,247.06 149.46,246.42 150.86,245.82 152.26,245.23 153.66,244.67 155.05,244.12 156.45,243.60 157.85,243.10 159.25,242.61 160.65,242.14 162.05,241.68 163.45,241.24 164.85,240.82 166.24,240.41 167.64,240.01 169.04,239.62 170.44,239.25 171.84,238.88 173.24,238.53 174.64,238.19 176.04,237.86 177.43,237.53 178.83,237.22 180.23,236.91 181.63,236.62 183.03,236.33 184.43,236.05 185.83,235.77 187.23,235.51 188.62,235.25 190.02,234.99 191.42,234.74 192.82,234.50 194.22,234.27 195.62,234.04 197.02,233.81 198.42,233.59 199.81,233.38 201.21,233.17 202.61,232.97 204.01,232.77 205.41,232.57 206.81,232.38 208.21,232.19 209.61,232.01 211.00,231.83 212.40,231.66 213.80,231.49 215.20,231.32"/>
<circle cx="111.60" cy="284.60" r="1.4" fill="#fff" fill-opacity="0.6" stroke="#a098d0" stroke-width="0.8"/>
<circle cx="118.51" cy="271.50" r="1.4" fill="#fff" fill-opacity="0.6" stroke="#a098d0" stroke-width="0.8"/>
<circle cx="132.32" cy="255.80" r="1.4" fill="#fff" fill-opacity="0.6" stroke="#a098d0" stroke-width="0.8"/>
<circle cx="159.95" cy="239.60" r="1.4" fill="#fff" fill-opacity="0.6" stroke="#a098d0" stroke-width="0.8"/>
<circle cx="215.20" cy="233.30" r="1.4" fill="#fff" fill-opacity="0.6" stroke="#a098d0" stroke-width="0.8"/>
<polyline fill="none" stroke="#e0358a" stroke-width="1.0" points="104.70,300.70 106.10,298.27 107.50,295.96 108.90,293.76 110.29,291.67 111.69,289.68 113.09,287.78 114.49,285.96 115.89,284.23 117.29,282.56 118.69,280.97 120.09,279.45 121.48,277.98 122.88,276.57 124.28,275.22 125.68,273.92 127.08,272.66 128.48,271.46 129.88,270.29 131.28,269.17 132.67,268.08 134.07,267.04 135.47,266.03 136.87,265.05 138.27,264.10 139.67,263.18 141.07,262.30 142.47,261.43 143.86,260.60 145.26,259.79 146.66,259.01 148.06,258.24 149.46,257.50 150.86,256.78 152.26,256.08 153.66,255.40 155.05,254.74 156.45,254.10 157.85,253.47 159.25,252.86 160.65,252.26 162.05,251.68 163.45,251.12 164.85,250.57 166.24,250.03 167.64,249.51 169.04,248.99 170.44,248.49 171.84,248.00 173.24,247.53 174.64,247.06 176.04,246.60 177.43,246.16 178.83,245.72 180.23,245.30 181.63,244.88 183.03,244.47 184.43,244.07 185.83,243.68 187.23,243.30 188.62,242.92 190.02,242.55 191.42,242.19 192.82,241.84 194.22,241.49 195.62,241.16 197.02,240.82 198.42,240.50 199.81,240.18 201.21,239.86 202.61,239.55 204.01,239.25 205.41,238.95 206.81,238.66 208.21,238.37 209.61,238.09 211.00,237.82 212.40,237.54 213.80,237.28 215.20,237.01"/>
<circle cx="111.60" cy="291.50" r="1.4" fill="#fff" fill-opacity="0.6" stroke="#e0358a" stroke-width="0.8"/>
<circle cx="118.51" cy="280.60" r="1.4" fill="#fff" fill-opacity="0.6" stroke="#e0358a" stroke-width="0.8"/>
<circle cx="132.32" cy="268.00" r="1.4" fill="#fff" fill-opacity="0.6" stroke="#e0358a" stroke-width="0.8"/>
<circle cx="159.95" cy="252.40" r="1.4" fill="#fff" fill-opacity="0.6" stroke="#e0358a" stroke-width="0.8"/>
<circle cx="215.20" cy="237.20" r="1.4" fill="#fff" fill-opacity="0.6" stroke="#e0358a" stroke-width="0.8"/>
<polyline fill="none" stroke="#f4a640" stroke-width="1.0" points="104.70,300.70 106.10,299.36 107.50,298.05 108.90,296.77 110.29,295.52 111.69,294.29 113.09,293.09 114.49,291.92 115.89,290.77 117.29,289.64 118.69,288.54 120.09,287.46 121.48,286.39 122.88,285.35 124.28,284.34 125.68,283.34 127.08,282.36 128.48,281.39 129.88,280.45 131.28,279.52 132.67,278.61 134.07,277.72 135.47,276.84 136.87,275.98 138.27,275.14 139.67,274.31 141.07,273.49 142.47,272.69 143.86,271.90 145.26,271.12 146.66,270.36 148.06,269.61 149.46,268.87 150.86,268.15 152.26,267.44 153.66,266.74 155.05,266.05 156.45,265.37 157.85,264.70 159.25,264.04 160.65,263.39 162.05,262.75 163.45,262.13 164.85,261.51 166.24,260.90 167.64,260.30 169.04,259.71 170.44,259.12 171.84,258.55 173.24,257.99 174.64,257.43 176.04,256.88 177.43,256.34 178.83,255.80 180.23,255.28 181.63,254.76 183.03,254.25 184.43,253.74 185.83,253.24 187.23,252.75 188.62,252.27 190.02,251.79 191.42,251.32 192.82,250.85 194.22,250.39 195.62,249.94 197.02,249.49 198.42,249.05 199.81,248.61 201.21,248.18 202.61,247.76 204.01,247.34 205.41,246.92 206.81,246.51 208.21,246.11 209.61,245.71 211.00,245.31 212.40,244.92 213.80,244.54 215.20,244.16"/>
<circle cx="111.60" cy="294.20" r="1.4" fill="#fff" fill-opacity="0.6" stroke="#f4a640" stroke-width="0.8"/>
<circle cx="118.51" cy="287.60" r="1.4" fill="#fff" fill-opacity="0.6" stroke="#f4a640" stroke-width="0.8"/>
<circle cx="132.32" cy="279.40" r="1.4" fill="#fff" fill-opacity="0.6" stroke="#f4a640" stroke-width="0.8"/>
<circle cx="159.95" cy="264.00" r="1.4" fill="#fff" fill-opacity="0.6" stroke="#f4a640" stroke-width="0.8"/>
<circle cx="215.20" cy="244.00" r="1.4" fill="#fff" fill-opacity="0.6" stroke="#f4a640" stroke-width="0.8"/>
<polyline fill="none" stroke="#3aaad8" stroke-width="1.0" points="104.70,300.70 106.10,300.05 107.50,299.41 108.90,298.77 110.29,298.13 111.69,297.51 113.09,296.88 114.49,296.26 115.89,295.65 117.29,295.04 118.69,294.44 120.09,293.84 121.48,293.25 122.88,292.66 124.28,292.07 125.68,291.49 127.08,290.92 128.48,290.35 129.88,289.78 131.28,289.22 132.67,288.66 134.07,288.11 135.47,287.56 136.87,287.02 138.27,286.48 139.67,285.94 141.07,285.41 142.47,284.88 143.86,284.35 145.26,283.83 146.66,283.32 148.06,282.80 149.46,282.30 150.86,281.79 152.26,281.29 153.66,280.79 155.05,280.30 156.45,279.81 157.85,279.32 159.25,278.83 160.65,278.35 162.05,277.88 163.45,277.40 164.85,276.93 166.24,276.47 167.64,276.00 169.04,275.54 170.44,275.09 171.84,274.63 173.24,274.18 174.64,273.74 176.04,273.29 177.43,272.85 178.83,272.41 180.23,271.98 181.63,271.54 183.03,271.12 184.43,270.69 185.83,270.27 187.23,269.84 188.62,269.43 190.02,269.01 191.42,268.60 192.82,268.19 194.22,267.78 195.62,267.38 197.02,266.98 198.42,266.58 199.81,266.18 201.21,265.79 202.61,265.40 204.01,265.01 205.41,264.62 206.81,264.24 208.21,263.86 209.61,263.48 211.00,263.10 212.40,262.73 213.80,262.36 215.20,261.99"/>
<circle cx="111.60" cy="297.00" r="1.4" fill="#fff" fill-opacity="0.6" stroke="#3aaad8" stroke-width="0.8"/>
<circle cx="118.51" cy="293.60" r="1.4" fill="#fff" fill-opacity="0.6" stroke="#3aaad8" stroke-width="0.8"/>
<circle cx="132.32" cy="288.30" r="1.4" fill="#fff" fill-opacity="0.6" stroke="#3aaad8" stroke-width="0.8"/>
<circle cx="159.95" cy="279.70" r="1.4" fill="#fff" fill-opacity="0.6" stroke="#3aaad8" stroke-width="0.8"/>
<circle cx="215.20" cy="261.70" r="1.4" fill="#fff" fill-opacity="0.6" stroke="#3aaad8" stroke-width="0.8"/>
<polyline fill="none" stroke="#4aae52" stroke-width="1.0" points="104.70,300.70 106.10,300.34 107.50,299.98 108.90,299.62 110.29,299.27 111.69,298.92 113.09,298.57 114.49,298.22 115.89,297.88 117.29,297.53 118.69,297.19 120.09,296.85 121.48,296.52 122.88,296.18 124.28,295.85 125.68,295.52 127.08,295.19 128.48,294.87 129.88,294.54 131.28,294.22 132.67,293.90 134.07,293.59 135.47,293.27 136.87,292.96 138.27,292.65 139.67,292.34 141.07,292.03 142.47,291.72 143.86,291.42 145.26,291.12 146.66,290.82 148.06,290.52 149.46,290.22 150.86,289.93 152.26,289.63 153.66,289.34 155.05,289.05 156.45,288.76 157.85,288.48 159.25,288.19 160.65,287.91 162.05,287.63 163.45,287.35 164.85,287.07 166.24,286.79 167.64,286.52 169.04,286.25 170.44,285.98 171.84,285.71 173.24,285.44 174.64,285.17 176.04,284.91 177.43,284.64 178.83,284.38 180.23,284.12 181.63,283.86 183.03,283.60 184.43,283.34 185.83,283.09 187.23,282.84 188.62,282.58 190.02,282.33 191.42,282.08 192.82,281.84 194.22,281.59 195.62,281.34 197.02,281.10 198.42,280.86 199.81,280.62 201.21,280.38 202.61,280.14 204.01,279.90 205.41,279.66 206.81,279.43 208.21,279.20 209.61,278.96 211.00,278.73 212.40,278.50 213.80,278.27 215.20,278.05"/>
<circle cx="111.60" cy="298.90" r="1.4" fill="#fff" fill-opacity="0.6" stroke="#4aae52" stroke-width="0.8"/>
<circle cx="118.51" cy="297.40" r="1.4" fill="#fff" fill-opacity="0.6" stroke="#4aae52" stroke-width="0.8"/>
<circle cx="132.32" cy="293.60" r="1.4" fill="#fff" fill-opacity="0.6" stroke="#4aae52" stroke-width="0.8"/>
<circle cx="159.95" cy="288.30" r="1.4" fill="#fff" fill-opacity="0.6" stroke="#4aae52" stroke-width="0.8"/>
<circle cx="215.20" cy="278.00" r="1.4" fill="#fff" fill-opacity="0.6" stroke="#4aae52" stroke-width="0.8"/>
<polyline fill="none" stroke="#b3cb9c" stroke-width="1.0" points="104.70,300.70 106.10,300.52 107.50,300.35 108.90,300.17 110.29,300.00 111.69,299.82 113.09,299.65 114.49,299.47 115.89,299.30 117.29,299.12 118.69,298.95 120.09,298.77 121.48,298.60 122.88,298.42 124.28,298.25 125.68,298.07 127.08,297.90 128.48,297.72 129.88,297.55 131.28,297.37 132.67,297.19 134.07,297.02 135.47,296.84 136.87,296.67 138.27,296.49 139.67,296.32 141.07,296.14 142.47,295.97 143.86,295.79 145.26,295.62 146.66,295.44 148.06,295.27 149.46,295.09 150.86,294.92 152.26,294.74 153.66,294.57 155.05,294.39 156.45,294.21 157.85,294.04 159.25,293.86 160.65,293.69 162.05,293.51 163.45,293.34 164.85,293.16 166.24,292.99 167.64,292.81 169.04,292.64 170.44,292.46 171.84,292.29 173.24,292.11 174.64,291.94 176.04,291.76 177.43,291.59 178.83,291.41 180.23,291.24 181.63,291.06 183.03,290.88 184.43,290.71 185.83,290.53 187.23,290.36 188.62,290.18 190.02,290.01 191.42,289.83 192.82,289.66 194.22,289.48 195.62,289.31 197.02,289.13 198.42,288.96 199.81,288.78 201.21,288.61 202.61,288.43 204.01,288.26 205.41,288.08 206.81,287.91 208.21,287.73 209.61,287.55 211.00,287.38 212.40,287.20 213.80,287.03 215.20,286.85"/>
<circle cx="111.60" cy="299.80" r="1.4" fill="#fff" fill-opacity="0.6" stroke="#b3cb9c" stroke-width="0.8"/>
<circle cx="118.51" cy="299.00" r="1.4" fill="#fff" fill-opacity="0.6" stroke="#b3cb9c" stroke-width="0.8"/>
<circle cx="132.32" cy="297.20" r="1.4" fill="#fff" fill-opacity="0.6" stroke="#b3cb9c" stroke-width="0.8"/>
<circle cx="159.95" cy="294.30" r="1.4" fill="#fff" fill-opacity="0.6" stroke="#b3cb9c" stroke-width="0.8"/>
<circle cx="215.20" cy="286.60" r="1.4" fill="#fff" fill-opacity="0.6" stroke="#b3cb9c" stroke-width="0.8"/>
<text x="240.4" y="234.8" font-size="7.6" textLength="39.2" lengthAdjust="spacingAndGlyphs" fill="#231f20" stroke="#231f20" stroke-width="0.1">BT200 (nM)</text>
<line x1="241.30" y1="241.70" x2="248.60" y2="241.70" stroke="#a098d0" stroke-width="1.3"/>
<circle cx="245.0" cy="241.70" r="1.5" fill="#a098d0" fill-opacity="0.45" stroke="#a098d0" stroke-width="0.9"/>
<text x="251.2" y="244.2" font-size="8.2" textLength="4.17" lengthAdjust="spacingAndGlyphs" fill="#231f20" stroke="#231f20" stroke-width="0.1">0</text>
<line x1="241.30" y1="250.98" x2="248.60" y2="250.98" stroke="#e0358a" stroke-width="1.3"/>
<circle cx="245.0" cy="250.98" r="1.5" fill="#e0358a" fill-opacity="0.45" stroke="#e0358a" stroke-width="0.9"/>
<text x="251.2" y="253.48" font-size="8.2" textLength="14.6" lengthAdjust="spacingAndGlyphs" fill="#231f20" stroke="#231f20" stroke-width="0.1">4.69</text>
<line x1="241.30" y1="260.26" x2="248.60" y2="260.26" stroke="#f4a640" stroke-width="1.3"/>
<circle cx="245.0" cy="260.26" r="1.5" fill="#f4a640" fill-opacity="0.45" stroke="#f4a640" stroke-width="0.9"/>
<text x="251.2" y="262.76" font-size="8.2" textLength="14.6" lengthAdjust="spacingAndGlyphs" fill="#231f20" stroke="#231f20" stroke-width="0.1">9.37</text>
<line x1="241.30" y1="269.54" x2="248.60" y2="269.54" stroke="#3aaad8" stroke-width="1.3"/>
<circle cx="245.0" cy="269.54" r="1.5" fill="#3aaad8" fill-opacity="0.45" stroke="#3aaad8" stroke-width="0.9"/>
<text x="251.2" y="272.03999999999996" font-size="8.2" textLength="18.77" lengthAdjust="spacingAndGlyphs" fill="#231f20" stroke="#231f20" stroke-width="0.1">18.75</text>
<line x1="241.30" y1="278.82" x2="248.60" y2="278.82" stroke="#4aae52" stroke-width="1.3"/>
<circle cx="245.0" cy="278.82" r="1.5" fill="#4aae52" fill-opacity="0.45" stroke="#4aae52" stroke-width="0.9"/>
<text x="251.2" y="281.32" font-size="8.2" textLength="14.6" lengthAdjust="spacingAndGlyphs" fill="#231f20" stroke="#231f20" stroke-width="0.1">37.5</text>
<line x1="241.30" y1="288.10" x2="248.60" y2="288.10" stroke="#b3cb9c" stroke-width="1.3"/>
<circle cx="245.0" cy="288.10" r="1.5" fill="#b3cb9c" fill-opacity="0.45" stroke="#b3cb9c" stroke-width="0.9"/>
<text x="251.2" y="290.59999999999997" font-size="8.2" textLength="14.6" lengthAdjust="spacingAndGlyphs" fill="#231f20" stroke="#231f20" stroke-width="0.1">75.0</text>
<line x1="333.70" y1="225.70" x2="333.70" y2="311.20" stroke="#1e1e1e" stroke-width="1.4"/>
<line x1="333.40" y1="308.40" x2="455.80" y2="308.40" stroke="#1e1e1e" stroke-width="1.4"/>
<line x1="330.60" y1="308.40" x2="333.70" y2="308.40" stroke="#1e1e1e" stroke-width="1"/>
<text x="327.4" y="310.5" font-size="8.1" text-anchor="end" textLength="4.17" lengthAdjust="spacingAndGlyphs" fill="#231f20" stroke="#231f20" stroke-width="0.1">0</text>
<line x1="330.60" y1="292.42" x2="333.70" y2="292.42" stroke="#1e1e1e" stroke-width="1"/>
<text x="327.4" y="294.52" font-size="8.1" text-anchor="end" textLength="4.17" lengthAdjust="spacingAndGlyphs" fill="#231f20" stroke="#231f20" stroke-width="0.1">5</text>
<line x1="330.60" y1="276.44" x2="333.70" y2="276.44" stroke="#1e1e1e" stroke-width="1"/>
<text x="327.4" y="278.54" font-size="8.1" text-anchor="end" textLength="8.34" lengthAdjust="spacingAndGlyphs" fill="#231f20" stroke="#231f20" stroke-width="0.1">10</text>
<line x1="330.60" y1="260.46" x2="333.70" y2="260.46" stroke="#1e1e1e" stroke-width="1"/>
<text x="327.4" y="262.56" font-size="8.1" text-anchor="end" textLength="8.34" lengthAdjust="spacingAndGlyphs" fill="#231f20" stroke="#231f20" stroke-width="0.1">15</text>
<line x1="330.60" y1="244.48" x2="333.70" y2="244.48" stroke="#1e1e1e" stroke-width="1"/>
<text x="327.4" y="246.57999999999996" font-size="8.1" text-anchor="end" textLength="8.34" lengthAdjust="spacingAndGlyphs" fill="#231f20" stroke="#231f20" stroke-width="0.1">20</text>
<line x1="330.60" y1="228.50" x2="333.70" y2="228.50" stroke="#1e1e1e" stroke-width="1"/>
<text x="327.4" y="230.59999999999997" font-size="8.1" text-anchor="end" textLength="8.34" lengthAdjust="spacingAndGlyphs" fill="#231f20" stroke="#231f20" stroke-width="0.1">25</text>
<line x1="333.70" y1="308.40" x2="333.70" y2="311.20" stroke="#1e1e1e" stroke-width="1"/>
<text x="333.7" y="321.1" font-size="8.1" text-anchor="middle" textLength="4.17" lengthAdjust="spacingAndGlyphs" fill="#231f20" stroke="#231f20" stroke-width="0.1">0</text>
<line x1="363.67" y1="308.40" x2="363.67" y2="311.20" stroke="#1e1e1e" stroke-width="1"/>
<text x="363.66999999999996" y="321.1" font-size="8.1" text-anchor="middle" textLength="8.34" lengthAdjust="spacingAndGlyphs" fill="#231f20" stroke="#231f20" stroke-width="0.1">20</text>
<line x1="393.64" y1="308.40" x2="393.64" y2="311.20" stroke="#1e1e1e" stroke-width="1"/>
<text x="393.64" y="321.1" font-size="8.1" text-anchor="middle" textLength="8.34" lengthAdjust="spacingAndGlyphs" fill="#231f20" stroke="#231f20" stroke-width="0.1">40</text>
<line x1="423.61" y1="308.40" x2="423.61" y2="311.20" stroke="#1e1e1e" stroke-width="1"/>
<text x="423.61" y="321.1" font-size="8.1" text-anchor="middle" textLength="8.34" lengthAdjust="spacingAndGlyphs" fill="#231f20" stroke="#231f20" stroke-width="0.1">60</text>
<line x1="453.58" y1="308.40" x2="453.58" y2="311.20" stroke="#1e1e1e" stroke-width="1"/>
<text x="453.58" y="321.1" font-size="8.1" text-anchor="middle" textLength="8.34" lengthAdjust="spacingAndGlyphs" fill="#231f20" stroke="#231f20" stroke-width="0.1">80</text>
<text x="395.4" y="333.9" font-size="8.6" text-anchor="middle" textLength="39.4" lengthAdjust="spacingAndGlyphs" fill="#231f20" stroke="#231f20" stroke-width="0.1">BT200 (nM)</text>
<text transform="translate(313.0,266.2) rotate(-90)" font-size="8.8" text-anchor="middle" fill="#231f20" stroke="#231f20" stroke-width="0.1" textLength="35.8" lengthAdjust="spacingAndGlyphs">K<tspan font-size="6.2" dy="1.7">D</tspan><tspan dy="-1.7"> (µg/ml)</tspan></text>
<text x="338.8" y="220.3" font-size="9.7" fill="#231f20" stroke="#231f20" stroke-width="0.1">K<tspan font-size="6.8" dy="1.8">D</tspan><tspan dy="-1.8">: rVWF - BT200 binding</tspan></text>
<text x="372.6" y="239.6" font-size="7.9" fill="#231f20" stroke="#231f20" stroke-width="0.1">R<tspan font-size="5.4" dy="-3.2">2</tspan><tspan dy="3.2"> = 0.9865</tspan></text>
<line x1="333.80" y1="306.90" x2="445.80" y2="235.60" stroke="#c8823a" stroke-width="1.1"/>
<circle cx="333.7" cy="306.6" r="2" fill="#b06e1e"/>
<circle cx="340.7" cy="304.8" r="2" fill="#b06e1e"/>
<circle cx="347.7" cy="299.1" r="2" fill="#b06e1e"/>
<circle cx="361.9" cy="283.4" r="2" fill="#b06e1e"/>
<circle cx="389.9" cy="274.3" r="2" fill="#b06e1e"/>
<circle cx="445.8" cy="235.9" r="2" fill="#b06e1e"/>
<rect x="0.5" y="0.5" width="519" height="343" fill="none" stroke="#595959" stroke-width="1"/>
</svg>
</body></html>
